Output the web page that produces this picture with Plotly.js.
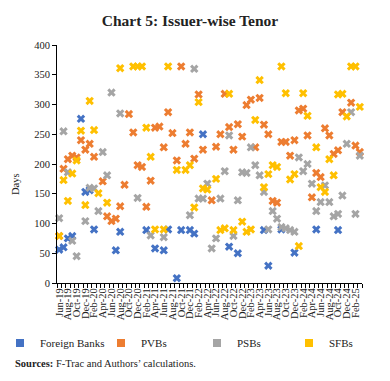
<!DOCTYPE html>
<html>
<head>
<meta charset="utf-8">
<script src="https://cdn.plot.ly/plotly-3.0.1.min.js"></script>
<style>
  html, body { margin: 0; padding: 0; background: #ffffff; }
  #chart { width: 390px; height: 381px; }
</style>
</head>
<body>
<div id="chart"></div>
<script>
const months = [
  'Jun-19','Jul-19','Aug-19','Sep-19','Oct-19','Nov-19','Dec-19','Jan-20','Feb-20','Mar-20',
  'Apr-20','May-20','Jun-20','Jul-20','Aug-20','Sep-20','Oct-20','Nov-20','Dec-20','Jan-21',
  'Feb-21','Mar-21','Apr-21','May-21','Jun-21','Jul-21','Aug-21','Sep-21','Oct-21','Nov-21',
  'Dec-21','Jan-22','Feb-22','Mar-22','Apr-22','May-22','Jun-22','Jul-22','Aug-22','Sep-22',
  'Oct-22','Nov-22','Dec-22','Jan-23','Feb-23','Mar-23','Apr-23','May-23','Jun-23','Jul-23',
  'Aug-23','Sep-23','Oct-23','Nov-23','Dec-23','Jan-24','Feb-24','Mar-24','Apr-24','May-24',
  'Jun-24','Jul-24','Aug-24','Sep-24','Oct-24','Nov-24','Dec-24','Jan-25','Feb-25','Mar-25'
];

const foreignBanks = [
  56, 60, 75, 79, null, 276, 153, 156, 90, null,
  null, null, null, 55, 86, null, null, null, null, null,
  89, null, 58, null, 55, 90, null, 8, 89, null,
  89, 83, null, 250, null, null, null, null, null, 61,
  null, 50, null, null, null, null, null, 89, 29, null,
  null, 90, null, null, 51, null, null, null, null, 90,
  null, null, null, null, 89, null, null, null, null, null
];

const pvbs = [
  79, 192, 208, 214, 211, 240, 224, 234, 212, null,
  171, 112, 104, 108, 129, 165, 284, 253, 198, 195,
  128, 172, 261, 263, 228, 287, 252, 206, 364, 234,
  253, 209, 317, 224, null, 139, 229, 250, 318, 262,
  224, 267, 246, 299, 308, 228, 311, 266, 250, 138,
  135, 237, 237, 214, 240, 290, 293, 248, 144, 185,
  178, 260, 248, 217, 223, 287, null, 303, 231, 220
];

const psbs = [
  109, 255, 186, 71, 45, null, 104, 160, 159, 121,
  220, 181, 320, null, 285, null, null, null, 143, null,
  null, 80, null, null, 77, null, null, null, null, null,
  114, 360, 142, 142, 167, 58, 75, 142, 188, 248,
  79, 139, 186, 185, 228, 198, 181, 153, 90, 121,
  108, 94, 92, 89, 86, 211, 188, 200, 167, 121,
  136, 164, 136, 112, 116, 147, 234, 287, 116, 214
];

const sfbs = [
  79, 173, 138, 184, 206, 256, 131, 306, 257, 151,
  null, 135, null, null, 361, null, null, 364, 364, 364,
  261, 212, 90, null, 90, 364, null, 190, null, 190,
  198, 127, 304, 159, 157, null, 175, 89, 92, 318,
  89, null, 103, 86, 90, 274, 341, 161, 183, 198,
  195, 364, 319, 174, 183, 62, 319, 281, null, 228,
  161, 153, 208, 181, 317, 318, 280, 364, 364, 296
];

const seriesNames = ['Foreign Banks', 'PVBs', 'PSBs', 'SFBs'];
const yTickValues = [0, 50, 100, 150, 200, 250, 300, 350, 400];

const seriesValues = [foreignBanks, pvbs, psbs, sfbs];
const colors = ['#4472C4', '#ED7D31', '#A5A5A5', '#FFC000'];
const legendIds = ['legend', 'legend2', 'legend3', 'legend4'];
const legendLeftPx = [-16, 101, 197, 289];
const FONT = 'Liberation Serif, Times New Roman, serif';

const traces = [];
seriesValues.forEach((vals, k) => {
  traces.push({
    type: 'scatter', mode: 'markers',
    x: months, y: vals,
    name: seriesNames[k], legendgroup: seriesNames[k],
    showlegend: false,
    marker: { symbol: 'x', size: 7.5, color: colors[k], line: { width: 0 } },
    cliponaxis: false
  });
});
// legend entries (square keys, no data drawn)
seriesValues.forEach((vals, k) => {
  traces.push({
    type: 'scatter', mode: 'markers',
    x: [null], y: [null],
    name: seriesNames[k], legendgroup: seriesNames[k],
    legend: legendIds[k], showlegend: true,
    marker: { symbol: 'square', size: 8, color: colors[k] }
  });
});

const L = 57, R = 28, T = 45, B = 98;
const W = 390, H = 381;
const pw = W - L - R, ph = H - T - B;
const px2x = p => (p - L) / pw;
const px2y = p => (H - B - p) / ph;

function legendAt(leftPx) {
  return {
    xref: 'container', yref: 'container',
    x: leftPx / W, xanchor: 'left',
    y: 1 - 343 / H, yanchor: 'middle',
    orientation: 'h', bgcolor: 'rgba(0,0,0,0)',
    font: { family: FONT, size: 11, color: '#222' },
    borderwidth: 0
  };
}

const layout = {
  width: W, height: H,
  margin: { l: L, r: R, t: T, b: B, pad: 0 },
  paper_bgcolor: '#ffffff', plot_bgcolor: '#ffffff',
  font: { family: FONT, size: 10.5, color: '#222' },
  title: {
    text: '<b>Chart 5: Issuer-wise Tenor</b>',
    font: { family: FONT, size: 15.5, color: '#222' },
    x: 190 / W, xref: 'container', xanchor: 'center',
    y: 1 - 21 / H, yref: 'container', yanchor: 'middle'
  },
  xaxis: {
    type: 'category',
    range: [-0.5, months.length - 0.5],
    tickmode: 'array',
    tickvals: months,
    ticktext: months.map((m, i) => (i % 2 === 0 ? m : '')),
    tickson: 'boundaries',
    ticks: 'outside', ticklen: 4, tickwidth: 1, tickcolor: '#000',
    tickangle: -90,
    tickfont: { family: FONT, size: 10.5, color: '#222' },
    showline: true, linecolor: '#000', linewidth: 1,
    showgrid: false, zeroline: false, fixedrange: true, automargin: false
  },
  yaxis: {
    range: [0, 400],
    tickmode: 'array', tickvals: yTickValues,
    ticks: 'outside', ticklen: 4, tickwidth: 1, tickcolor: '#000',
    tickfont: { family: FONT, size: 10.5, color: '#222' },
    showline: true, linecolor: '#000', linewidth: 1,
    showgrid: false, zeroline: false, fixedrange: true, automargin: false
  },
  legend: legendAt(legendLeftPx[0]),
  legend2: legendAt(legendLeftPx[1]),
  legend3: legendAt(legendLeftPx[2]),
  legend4: legendAt(legendLeftPx[3]),
  annotations: [
    {
      text: 'Days', textangle: -90,
      xref: 'paper', yref: 'paper',
      x: px2x(16), y: px2y(184), xanchor: 'center', yanchor: 'middle',
      showarrow: false, font: { family: FONT, size: 10.5, color: '#222' }
    },
    {
      text: '<b>Sources:</b> F-Trac and Authors’ calculations.',
      xref: 'paper', yref: 'paper',
      x: px2x(13), y: px2y(363), xanchor: 'left', yanchor: 'middle',
      showarrow: false, font: { family: FONT, size: 10.5, color: '#222' }
    }
  ]
};

Plotly.newPlot('chart', traces, layout, { displayModeBar: false, staticPlot: true });
</script>
</body>
</html>
